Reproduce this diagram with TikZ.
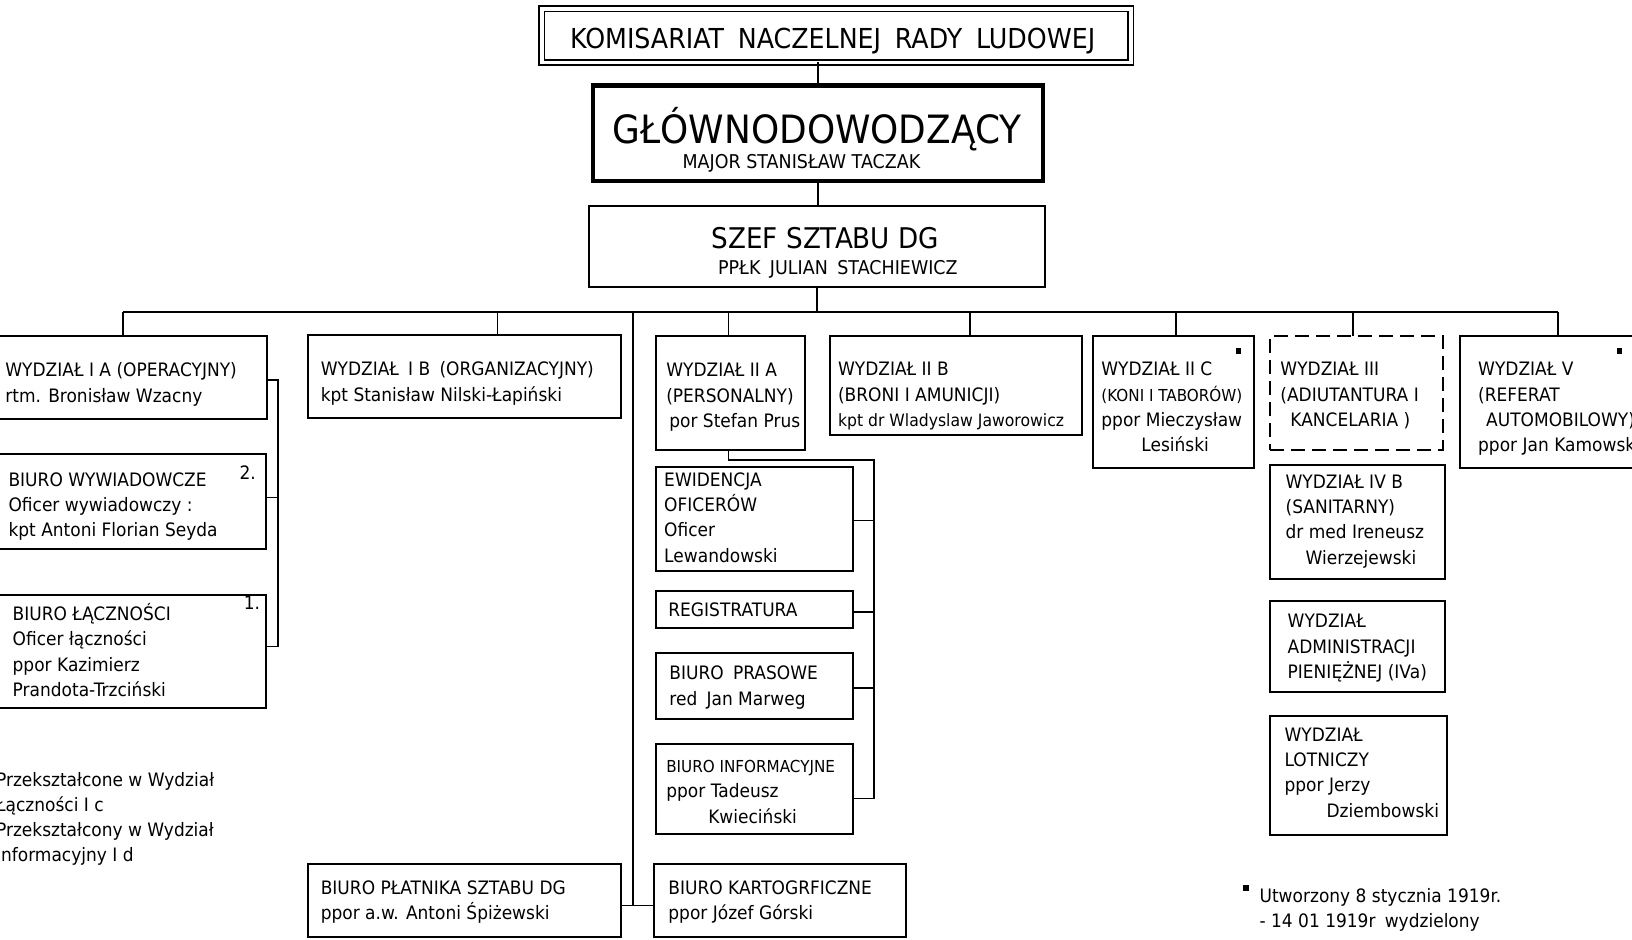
\documentclass[tikz,border=0pt]{standalone}
\usepackage{fontspec}
\setmainfont{DejaVu Sans}[FakeStretch=0.92]
\usetikzlibrary{fit}
\newcommand\bodyfs{\fontsize{18.5}{25.3}\selectfont}
\newcommand\smallfs{\fontsize{16.5}{25.3}\selectfont}
\newcommand\fl{\rule{0pt}{18pt}}
\begin{document}
\begin{tikzpicture}[x=1.0408pt,y=-1.0408pt,
  box/.style={draw, line width=2pt, inner sep=0pt, outer sep=0pt},
  dbox/.style={box, dash pattern=on 14pt off 7pt},
  txt/.style={anchor=north west, yshift=18pt, align=left, inner sep=0pt, font=\bodyfs},
  ctxt/.style={anchor=base, inner sep=0pt},
  conn/.style={line width=1.6pt},
  starmark/.style={fill, draw=none, minimum size=5.5pt, inner sep=0pt},
]
\useasboundingbox (0,0) rectangle (1568,903);
\clip (0,0) rectangle (1568,903);
\fill[white] (0,0) rectangle (1568,903);

% ---- top of the hierarchy
\node[box, double, double distance=3.6pt, line width=1.6pt, fit={(520.5,8.5)(1086.5,60)}] (kom) {};
\node[ctxt, font=\fontsize{27.5}{30}\selectfont] (komt) at (800,47) {KOMISARIAT\enspace NACZELNEJ\enspace RADY\enspace LUDOWEJ};

\node[box, line width=4.5pt, fit={(569.5,82)(1002,174)}] (glow) {};
\node[ctxt, font=\fontsize{39}{40}\selectfont] (glowt) at (785,138) {GŁÓWNODOWODZĄCY};
\node[ctxt, font=\fontsize{19}{22}\selectfont] (glows) at (770,162) {MAJOR STANISŁAW TACZAK};

\node[box, fit={(566,198)(1004,276)}] (szef) {};
\node[ctxt, font=\fontsize{28.5}{30}\selectfont] (szeft) at (793,239) {SZEF SZTABU DG};
\node[ctxt, font=\fontsize{19}{22}\selectfont] (szefs) at (805,264) {PPŁK\enspace JULIAN\enspace STACHIEWICZ};

% ---- boxes
\node[box, fit={(-10,323)(257,403)}] (ia) {};
\node[box, fit={(296,322)(597,402)}] (ib) {};
\node[box, fit={(630,323)(773,432)}] (iia) {};
\node[box, fit={(797,323)(1040,418)}] (iib) {};
\node[box, fit={(1050,323)(1205,450)}] (iic) {};
\node[dbox, fit={(1220,323)(1386,432)}] (iii) {};
\node[box, fit={(1403,323)(1600,450)}] (v) {};
\node[box, fit={(-10,436)(256,527)}] (wyw) {};
\node[box, fit={(-10,572)(256,680)}] (lac) {};
\node[box, fit={(630,449)(820,549)}] (ewid) {};
\node[box, fit={(630,568)(820,603)}] (reg) {};
\node[box, fit={(630,627)(820,691)}] (pras) {};
\node[box, fit={(630,715)(820,801)}] (inf) {};
\node[box, fit={(296,830)(597,900)}] (plat) {};
\node[box, fit={(628,830)(870,900)}] (kart) {};
\node[box, fit={(1220,447)(1388,556)}] (ivb) {};
\node[box, fit={(1220,577)(1388,665)}] (adm) {};
\node[box, fit={(1220,688)(1390,802)}] (lot) {};

% ---- connectors
\draw[conn] (glow.north |- kom.south) -- (glow.north);
\draw[conn] (glow.south) -- (glow.south |- szef.north);
\coordinate (busL) at (118,300);
\coordinate (busR) at (1497,300);
\coordinate (dIB) at (478,300);
\coordinate (dIIA) at (700,300);
\coordinate (dIIB) at (932,300);
\coordinate (dIIC) at (1130,300);
\coordinate (dIII) at (1300,300);
\coordinate (spT) at (608,300);
\coordinate (spB) at (608,870);
\draw[conn] (szef.south) -- (szef.south |- busL);
\draw[conn] (busL) -- (busR);
\draw[conn] (busL) -- (busL |- ia.north);
\draw[conn] (dIB) -- (dIB |- ib.north);
\draw[conn] (dIIA) -- (dIIA |- iia.north);
\draw[conn] (dIIB) -- (dIIB |- iib.north);
\draw[conn] (dIIC) -- (dIIC |- iic.north);
\draw[conn] (dIII) -- (dIII |- iii.north);
\draw[conn] (busR) -- (busR |- v.north);
\draw[conn] (spT) -- (spB);
\draw[conn] (plat.east |- spB) -- (kart.west |- spB);

\coordinate (bA) at (267,365);
\coordinate (bB) at (267,478);
\coordinate (bC) at (267,621);
\draw[conn] (ia.east |- bA) -- (bA) -- (bC) -- (lac.east |- bC);
\draw[conn] (wyw.east |- bB) -- (bB);

\coordinate (sA) at (840,442);
\coordinate (sE) at (840,500);
\coordinate (sR) at (840,588);
\coordinate (sP) at (840,661);
\coordinate (sI) at (840,767);
\draw[conn] (dIIA |- iia.south) -- (dIIA |- sA) -- (sA) -- (sI) -- (inf.east |- sI);
\draw[conn] (sE) -- (ewid.east |- sE);
\draw[conn] (sR) -- (reg.east |- sR);
\draw[conn] (sP) -- (pras.east |- sP);

% ---- texts (position = left end of the first baseline)
\node[txt] (iat) at (5,362) {\fl WYDZIAŁ I A (OPERACYJNY)\\rtm. Bronisław Wzacny};
\node[txt] (ibt) at (308,361) {\fl WYDZIAŁ\enspace I B\enspace (ORGANIZACYJNY)\\kpt Stanisław Nilski-Łapiński};
\node[txt] (iiat) at (640,362) {\fl WYDZIAŁ II A\\(PERSONALNY)\\\hspace*{3pt}por Stefan Prus};
\node[txt] (iibt) at (805,361) {\fl WYDZIAŁ II B\\(BRONI I AMUNICJI)\\{\fontsize{17}{25.3}\selectfont kpt dr Wladyslaw Jaworowicz}};
\node[txt] (iict) at (1058,361) {\fl WYDZIAŁ II C\\{\smallfs (KONI I TABORÓW)}\\ppor Mieczysław\\\hspace*{40pt}Lesiński};
\node[txt] (iiit) at (1230,361) {\fl WYDZIAŁ III\\(ADIUTANTURA I\\\hspace*{10pt}KANCELARIA )};
\node[txt] (vt) at (1420,361) {\fl WYDZIAŁ V\\(REFERAT\\\hspace*{8pt}AUTOMOBILOWY)\\ppor Jan Kamowski};
\node[txt] (wywt) at (8,467) {\fl BIURO WYWIADOWCZE\\Oficer wywiadowczy :\\kpt Antoni Florian Seyda};
\node[ctxt, font=\bodyfs] (wywn) at (238,461) {2.};
\node[txt] (lact) at (12,596) {\fl BIURO ŁĄCZNOŚCI\\Oficer łączności\\ppor Kazimierz\\Prandota-Trzciński};
\node[ctxt, font=\bodyfs] (lacn) at (242,586) {1.};
\node[txt] (ewidt) at (638,467) {\fl EWIDENCJA\\OFICERÓW\\Oficer\\Lewandowski};
\node[txt] (regt) at (642,592) {\fl REGISTRATURA};
\node[txt] (prast) at (643,653) {\fl BIURO\enspace PRASOWE\\red\enspace Jan Marweg};
\node[txt] (inft) at (640,742) {\fl{\smallfs BIURO INFORMACYJNE}\\ppor Tadeusz\\\hspace*{42pt}Kwieciński};
\node[txt] (platt) at (308,859) {\fl BIURO PŁATNIKA SZTABU DG\\ppor a.w. Antoni Śpiżewski};
\node[txt] (kartt) at (642,859) {\fl BIURO KARTOGRFICZNE\\ppor Józef Górski};
\node[txt] (ivbt) at (1235,469) {\fl WYDZIAŁ IV B\\(SANITARNY)\\dr med Ireneusz\\\hspace*{20pt}Wierzejewski};
\node[txt] (admt) at (1237,603) {\fl WYDZIAŁ\\ADMINISTRACJI\\PIENIĘŻNEJ (IVa)};
\node[txt] (lott) at (1234,712) {\fl WYDZIAŁ\\LOTNICZY\\ppor Jerzy\\\hspace*{42pt}Dziembowski};
\node[txt] (notel) at (-4,755) {\fl Przekształcone w Wydział\\Łączności I c\\Przekształcony w Wydział\\Informacyjny I d};
\node[txt] (noter) at (1210,867) {\fl Utworzony 8 stycznia 1919r.\\- 14 01 1919r\enspace wydzielony};

\node[starmark] (iicstar) at (1190,337) {};
\node[starmark] (vstar) at (1556,337) {};
\node[starmark] (notestar) at (1197,853) {};
\end{tikzpicture}
\end{document}
